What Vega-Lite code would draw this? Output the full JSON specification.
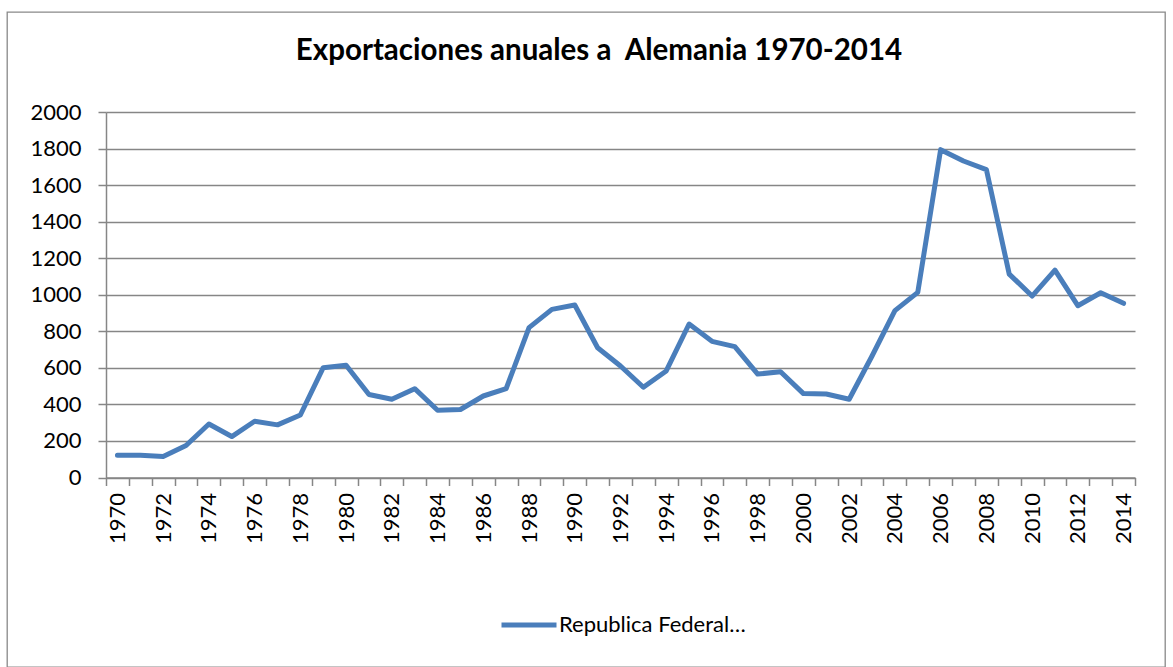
{
  "$schema": "https://vega.github.io/schema/vega-lite/v6.json",
  "autosize": {"type": "none"},
  "width": 1158,
  "height": 655,
  "padding": {"left": 7, "top": 12, "right": 8, "bottom": 0},
  "background": "white",
  "config": {
    "view": {"stroke": "#898989", "strokeWidth": 1.3},
    "font": "Lato"
  },
  "title": {
    "text": "Exportaciones anuales a\u00a0 Alemania 1970-2014",
    "font": "Lato",
    "fontSize": 29.5,
    "fontWeight": "bold",
    "color": "#000000",
    "anchor": "middle",
    "frame": "group",
    "baseline": "top",
    "offset": -30,
    "dy": 24,
    "dx": 13
  },
  "data": {
    "values": [
      {"year": 1970, "valor": 122, "serie": "Republica Federal de Alemania"},
      {"year": 1971, "valor": 122, "serie": "Republica Federal de Alemania"},
      {"year": 1972, "valor": 115, "serie": "Republica Federal de Alemania"},
      {"year": 1973, "valor": 175, "serie": "Republica Federal de Alemania"},
      {"year": 1974, "valor": 293, "serie": "Republica Federal de Alemania"},
      {"year": 1975, "valor": 224, "serie": "Republica Federal de Alemania"},
      {"year": 1976, "valor": 308, "serie": "Republica Federal de Alemania"},
      {"year": 1977, "valor": 288, "serie": "Republica Federal de Alemania"},
      {"year": 1978, "valor": 342, "serie": "Republica Federal de Alemania"},
      {"year": 1979, "valor": 601, "serie": "Republica Federal de Alemania"},
      {"year": 1980, "valor": 614, "serie": "Republica Federal de Alemania"},
      {"year": 1981, "valor": 454, "serie": "Republica Federal de Alemania"},
      {"year": 1982, "valor": 428, "serie": "Republica Federal de Alemania"},
      {"year": 1983, "valor": 486, "serie": "Republica Federal de Alemania"},
      {"year": 1984, "valor": 368, "serie": "Republica Federal de Alemania"},
      {"year": 1985, "valor": 372, "serie": "Republica Federal de Alemania"},
      {"year": 1986, "valor": 446, "serie": "Republica Federal de Alemania"},
      {"year": 1987, "valor": 486, "serie": "Republica Federal de Alemania"},
      {"year": 1988, "valor": 820, "serie": "Republica Federal de Alemania"},
      {"year": 1989, "valor": 920, "serie": "Republica Federal de Alemania"},
      {"year": 1990, "valor": 944, "serie": "Republica Federal de Alemania"},
      {"year": 1991, "valor": 710, "serie": "Republica Federal de Alemania"},
      {"year": 1992, "valor": 610, "serie": "Republica Federal de Alemania"},
      {"year": 1993, "valor": 494, "serie": "Republica Federal de Alemania"},
      {"year": 1994, "valor": 583, "serie": "Republica Federal de Alemania"},
      {"year": 1995, "valor": 840, "serie": "Republica Federal de Alemania"},
      {"year": 1996, "valor": 745, "serie": "Republica Federal de Alemania"},
      {"year": 1997, "valor": 716, "serie": "Republica Federal de Alemania"},
      {"year": 1998, "valor": 566, "serie": "Republica Federal de Alemania"},
      {"year": 1999, "valor": 579, "serie": "Republica Federal de Alemania"},
      {"year": 2000, "valor": 459, "serie": "Republica Federal de Alemania"},
      {"year": 2001, "valor": 457, "serie": "Republica Federal de Alemania"},
      {"year": 2002, "valor": 428, "serie": "Republica Federal de Alemania"},
      {"year": 2003, "valor": 665, "serie": "Republica Federal de Alemania"},
      {"year": 2004, "valor": 913, "serie": "Republica Federal de Alemania"},
      {"year": 2005, "valor": 1013, "serie": "Republica Federal de Alemania"},
      {"year": 2006, "valor": 1794, "serie": "Republica Federal de Alemania"},
      {"year": 2007, "valor": 1732, "serie": "Republica Federal de Alemania"},
      {"year": 2008, "valor": 1685, "serie": "Republica Federal de Alemania"},
      {"year": 2009, "valor": 1113, "serie": "Republica Federal de Alemania"},
      {"year": 2010, "valor": 993, "serie": "Republica Federal de Alemania"},
      {"year": 2011, "valor": 1135, "serie": "Republica Federal de Alemania"},
      {"year": 2012, "valor": 940, "serie": "Republica Federal de Alemania"},
      {"year": 2013, "valor": 1011, "serie": "Republica Federal de Alemania"},
      {"year": 2014, "valor": 953, "serie": "Republica Federal de Alemania"}
    ]
  },
  "mark": {"type": "line", "strokeWidth": 5, "strokeJoin": "round", "strokeCap": "round"},
  "encoding": {
    "x": {
      "field": "year",
      "type": "quantitative",
      "scale": {"domain": [1969.5, 2014.5], "range": [99, 1128], "nice": false, "zero": false},
      "axis": {
        "title": null,
        "orient": "bottom",
        "offset": -189.5,
        "grid": false,
        "values": [1969.5, 1970.5, 1971.5, 1972.5, 1973.5, 1974.5, 1975.5, 1976.5, 1977.5, 1978.5, 1979.5, 1980.5, 1981.5, 1982.5, 1983.5, 1984.5, 1985.5, 1986.5, 1987.5, 1988.5, 1989.5, 1990.5, 1991.5, 1992.5, 1993.5, 1994.5, 1995.5, 1996.5, 1997.5, 1998.5, 1999.5, 2000.5, 2001.5, 2002.5, 2003.5, 2004.5, 2005.5, 2006.5, 2007.5, 2008.5, 2009.5, 2010.5, 2011.5, 2012.5, 2013.5, 2014.5],
        "labelExpr": "((datum.value + 0.5) % 2 == 0 && datum.value < 2014) ? toString(datum.value + 0.5) : ''",
        "labelAngle": -90,
        "labelAlign": "right",
        "labelBaseline": "middle",
        "labelOffset": 11.4,
        "labelPadding": 7,
        "labelFont": "Lato",
        "labelFontSize": 22,
        "labelColor": "#000000",
        "labelOverlap": false,
        "labelFlush": false,
        "labelBound": false,
        "tickSize": 8,
        "tickColor": "#868686",
        "tickWidth": 1.5,
        "domainColor": "#868686",
        "domainWidth": 1.5
      }
    },
    "y": {
      "field": "valor",
      "type": "quantitative",
      "scale": {"domain": [0, 2000], "range": [465.5, 100], "nice": false, "zero": true},
      "axis": {
        "title": null,
        "orient": "left",
        "offset": -99,
        "format": "d",
        "values": [0, 200, 400, 600, 800, 1000, 1200, 1400, 1600, 1800, 2000],
        "grid": true,
        "gridColor": "#868686",
        "gridWidth": 1.5,
        "gridOpacity": 1,
        "tickSize": 8,
        "tickColor": "#868686",
        "tickWidth": 1.5,
        "domainColor": "#868686",
        "domainWidth": 1.5,
        "labelPadding": 17,
        "labelFont": "Lato",
        "labelFontSize": 22,
        "labelColor": "#000000",
        "labelFlush": false,
        "labelBound": false,
        "labelOverlap": false
      }
    },
    "color": {
      "field": "serie",
      "type": "nominal",
      "scale": {"range": ["#4A7EBB"]},
      "legend": {
        "title": null,
        "orient": "none",
        "legendX": 492,
        "legendY": 583,
        "symbolType": "stroke",
        "symbolStrokeWidth": 5,
        "symbolSize": 3025,
        "labelFont": "Lato",
        "labelFontSize": 22,
        "labelColor": "#000000",
        "labelLimit": 188,
        "labelOffset": 0
      }
    }
  }
}
